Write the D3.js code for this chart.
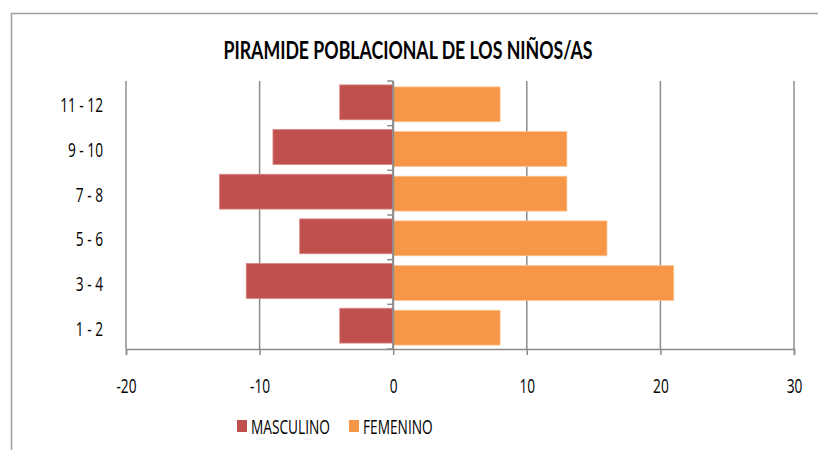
<!DOCTYPE html>
<html>
<head>
<meta charset="utf-8">
<script src="https://cdn.jsdelivr.net/npm/d3@7"></script>
<style>
  body { margin: 0; background: #fff; }
  svg { font-family: "Open Sans", Lato, sans-serif; }
</style>
</head>
<body>
<div id="chart"></div>
<script>
// data (bottom to top)
let categories = ["1 - 2", "3 - 4", "5 - 6", "7 - 8", "9 - 10", "11 - 12"];
let masculino = [-4, -11, -7, -13, -9, -4];
let femenino = [8, 21, 16, 13, 13, 8];
let xTicks = [-20, -10, 0, 10, 20, 30];
let seriesNames = ["MASCULINO", "FEMENINO"];
let seriesColors = ["#C0504D", "#F79646"];
let title = "PIRAMIDE POBLACIONAL DE LOS NIÑOS/AS";

let width = 818, height = 450;
let plot = { left: 126, right: 794, top: 81, bottom: 349 };
let labelSize = "20px";

let svg = d3.select("#chart").append("svg")
  .attr("width", width)
  .attr("height", height);

// the original font is narrow and tall, so squeeze text sideways
let squeeze = 1;
function condense(sel) {
  sel.each(function() {
    let w = this.getComputedTextLength();
    d3.select(this)
      .attr("textLength", w * squeeze)
      .attr("lengthAdjust", "spacingAndGlyphs");
  });
}

// work out the squeeze from the legend label width in the picture
let probe = svg.append("text").style("font-size", labelSize).text(seriesNames[0]);
squeeze = 79 / probe.node().getComputedTextLength();
probe.remove();

// outer chart frame
svg.append("rect")
  .attr("x", 11.5).attr("y", 13.5)
  .attr("width", 830).attr("height", 460)
  .attr("fill", "none")
  .attr("stroke", "#a0a0a0")
  .attr("stroke-width", 1.5);

let xScale = d3.scaleLinear().domain([-20, 30]).range([plot.left, plot.right]);
let yScale = d3.scaleBand().domain(categories.slice().reverse())
  .range([plot.top, plot.bottom])
  .paddingInner(0.22).paddingOuter(0.11);

// vertical gridlines
svg.append("g").selectAll("line")
  .data(xTicks)
  .enter().append("line")
  .attr("x1", d => xScale(d)).attr("x2", d => xScale(d))
  .attr("y1", plot.top).attr("y2", plot.bottom)
  .attr("stroke", "#8c8c8c")
  .attr("stroke-width", 1.5);

// bars
let rows = categories.map((c, i) => ({ cat: c, m: masculino[i], f: femenino[i] }));

svg.append("g").selectAll("rect")
  .data(rows)
  .enter().append("rect")
  .attr("x", d => xScale(d.m))
  .attr("y", d => yScale(d.cat) - 1)
  .attr("width", d => xScale(0) - xScale(d.m))
  .attr("height", yScale.bandwidth())
  .attr("fill", seriesColors[0])
  .attr("stroke", "#d98684")
  .attr("stroke-width", 0.8);

svg.append("g").selectAll("rect")
  .data(rows)
  .enter().append("rect")
  .attr("x", xScale(0))
  .attr("y", d => yScale(d.cat) + 1)
  .attr("width", d => xScale(d.f) - xScale(0))
  .attr("height", yScale.bandwidth())
  .attr("fill", seriesColors[1])
  .attr("stroke", "#fbc394")
  .attr("stroke-width", 0.8);

// x axis
let xAxis = svg.append("g")
  .attr("transform", "translate(0," + plot.bottom + ")")
  .call(d3.axisBottom(xScale).tickValues(xTicks).tickSize(6).tickFormat(d => String(d)));
xAxis.select(".domain").attr("stroke", "#8c8c8c").attr("stroke-width", 1.5);
xAxis.selectAll(".tick line").attr("stroke", "#8c8c8c").attr("stroke-width", 1.5);
xAxis.selectAll("text")
  .attr("y", 44)
  .attr("dy", null)
  .attr("fill", "#000")
  .style("font-size", labelSize)
  .style("font-family", "'Open Sans', Lato, sans-serif")
  .call(condense);

// y axis at zero with boundary ticks
let bounds = d3.range(categories.length + 1).map(i => plot.top + i * (plot.bottom - plot.top) / categories.length);
let yAxisG = svg.append("g");
yAxisG.append("line")
  .attr("x1", xScale(0)).attr("x2", xScale(0))
  .attr("y1", plot.top).attr("y2", plot.bottom)
  .attr("stroke", "#8c8c8c").attr("stroke-width", 2);
yAxisG.selectAll(".bt")
  .data(bounds)
  .enter().append("line")
  .attr("x1", xScale(0) - 6).attr("x2", xScale(0))
  .attr("y1", d => d).attr("y2", d => d)
  .attr("stroke", "#8c8c8c").attr("stroke-width", 1.5);

// category labels
svg.append("g").selectAll("text")
  .data(categories)
  .enter().append("text")
  .attr("x", 103)
  .attr("y", d => yScale(d) + yScale.bandwidth() / 2 + 9)
  .attr("text-anchor", "end")
  .style("font-size", labelSize)
  .text(d => d)
  .call(condense);

// title
svg.append("text")
  .attr("x", 408)
  .attr("y", 59)
  .attr("text-anchor", "middle")
  .style("font-family", "Lato, sans-serif")
  .style("font-size", "24px")
  .style("font-weight", "bold")
  .attr("textLength", 369)
  .attr("lengthAdjust", "spacingAndGlyphs")
  .text(title);

// legend
let legendX = [237, 349];
let legend = svg.append("g").selectAll("g")
  .data(seriesNames)
  .enter().append("g")
  .attr("transform", (d, i) => "translate(" + legendX[i] + ",420)");
legend.append("rect")
  .attr("width", 10).attr("height", 12)
  .attr("fill", (d, i) => seriesColors[i]);
legend.append("text")
  .attr("x", 14)
  .attr("y", 14)
  .style("font-size", labelSize)
  .text(d => d)
  .call(condense);
</script>
</body>
</html>
